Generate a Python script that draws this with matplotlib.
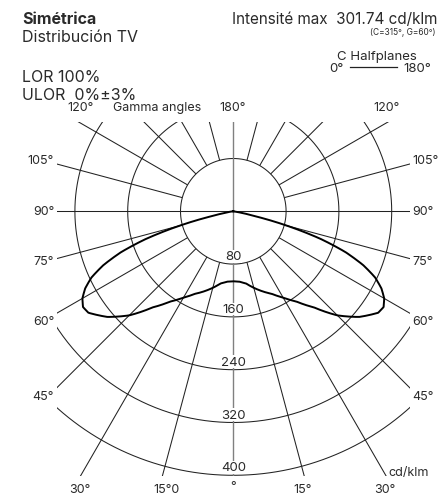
import numpy as np
import matplotlib
matplotlib.use("Agg")
import matplotlib.pyplot as plt
from matplotlib.patches import Rectangle
from matplotlib.lines import Line2D

plt.rcParams['font.family'] = ['Inter', 'DejaVu Sans']

# Photometric data, C0-C180 plane (symmetric), cd/klm
gamma_deg = [0, 5, 10, 15, 20, 25, 30, 35, 40, 45, 50, 55, 57.5, 60,
             62.5, 65, 67.5, 70, 72.5, 75, 77.5, 80, 85, 90]
intensity = [106, 107, 111, 120, 129, 138, 151, 167, 190, 223, 249, 268, 270, 264,
             253, 237, 213, 181, 138, 84, 31, 8, 1, 0]

ring_values = [80, 160, 240, 320, 400]
ring_labels = ["80", "160", "240", "320", "400"]
spoke_angles = [15, 30, 45, 60, 75, 105, 120, 135, 150, 165]

W, H = 445, 502
SCALE = 0.66          # pixels per cd/klm
CX, CY = 233.3, 212.3  # pole position in pixels

fig = plt.figure(figsize=(W / 100, H / 100), dpi=100)
ax = fig.add_axes([0, 0, 1, 1])
ax.set_xlim(-CX / SCALE, (W - CX) / SCALE)
ax.set_ylim(-(H - CY) / SCALE, CY / SCALE)
ax.axis('off')


def px(x, y):
    return x / W, 1 - y / H


clip = Rectangle((-267, -401.5), 534, 537, transform=ax.transData,
                 fill=False, visible=False)
ax.add_patch(clip)

grid_kw = dict(color='#222222', lw=0.75, solid_capstyle='butt')

# rings
t = np.linspace(0, 2 * np.pi, 720)
for r in ring_values:
    ln, = ax.plot(r * np.cos(t), r * np.sin(t), **grid_kw)
    ln.set_clip_path(clip)

# spokes starting at the inner ring
for g in spoke_angles:
    g_r = np.radians(g)
    for s in (-1, 1):
        xs = s * np.sin(g_r) * np.array([ring_values[0], 1200])
        ys = -np.cos(g_r) * np.array([ring_values[0], 1200])
        ln, = ax.plot(xs, ys, **grid_kw)
        ln.set_clip_path(clip)

# horizontal (90°) axis and vertical axis
ln, = ax.plot([-1000, 1000], [0, 0], **grid_kw)
ln.set_clip_path(clip)
ln, = ax.plot([0, 0], [-1000, 1000], color='#808080', lw=1.0)
ln.set_clip_path(clip)

# ring value labels
for r, lab in zip(ring_values, ring_labels):
    ax.text(0, -r + 12, lab, ha='center', va='center', fontsize=9.5,
            color='#2a2a2a', bbox=dict(facecolor='white', edgecolor='none', pad=0.3))

# photometric curve, mirrored for C0 / C180
g = np.radians(np.array(gamma_deg, dtype=float))
I = np.array(intensity, dtype=float)
g_fine = np.linspace(0, g[-1], 400)
I_fine = np.interp(g_fine, g, I)
x_right = I_fine * np.sin(g_fine)
y_right = -I_fine * np.cos(g_fine)
xc = np.concatenate([-x_right[::-1], x_right[1:]])
yc = np.concatenate([y_right[::-1], y_right[1:]])
ax.plot(xc, yc, color='black', lw=1.4, solid_joinstyle='round')

txt = dict(color='#2a2a2a')

# header
hs = 11.5
fig.text(*px(22, 20), "Simétrica", fontsize=hs, fontweight='bold', va='center', ha='left', **txt)
fig.text(*px(22, 37), "Distribución TV", fontsize=hs, va='center', ha='left', **txt)
fig.text(*px(22, 77), "LOR 100%", fontsize=hs, va='center', ha='left', **txt)
fig.text(*px(22, 96), "ULOR  0%±3%", fontsize=hs, va='center', ha='left', **txt)
fig.text(*px(437, 20), "Intensité max  301.74 cd/klm", fontsize=11, va='center', ha='right', **txt)
fig.text(*px(436, 33), "(C=315°, G=60°)", fontsize=6, va='center', ha='right', **txt)
fig.text(*px(377, 57), "C Halfplanes", fontsize=9.5, va='center', ha='center', **txt)
fig.text(*px(344, 69), "0°", fontsize=9.5, va='center', ha='right', **txt)
fig.text(*px(403, 69), "180°", fontsize=9.5, va='center', ha='left', **txt)
fig.add_artist(Line2D([350 / W, 397 / W], [1 - 68 / H, 1 - 68 / H],
                      color='#222222', lw=0.9, transform=fig.transFigure))

# angle labels
fs = 9
fig.text(*px(80, 108), "120°", fontsize=fs, va='center', ha='center', **txt)
fig.text(*px(113, 108), "Gamma angles", fontsize=fs, va='center', ha='left', **txt)
fig.text(*px(233, 108), "180°", fontsize=fs, va='center', ha='center', **txt)
fig.text(*px(387, 108), "120°", fontsize=fs, va='center', ha='center', **txt)

side = [("105°", 161), ("90°", 212), ("75°", 262), ("60°", 322), ("45°", 397)]
for lab, y in side:
    fig.text(*px(54, y), lab, fontsize=fs, va='center', ha='right', **txt)
    fig.text(*px(412, y), lab, fontsize=fs, va='center', ha='left', **txt)

fig.text(*px(388, 473), "cd/klm", fontsize=fs, va='center', ha='left', **txt)
fig.text(*px(80, 490), "30°", fontsize=fs, va='center', ha='center', **txt)
fig.text(*px(166, 490), "15°0", fontsize=fs, va='center', ha='center', **txt)
fig.text(*px(233, 487), "°", fontsize=fs, va='center', ha='center', **txt)
fig.text(*px(303, 490), "15°", fontsize=fs, va='center', ha='center', **txt)
fig.text(*px(385, 490), "30°", fontsize=fs, va='center', ha='center', **txt)

fig.savefig("out.png", dpi=100, facecolor='white')
